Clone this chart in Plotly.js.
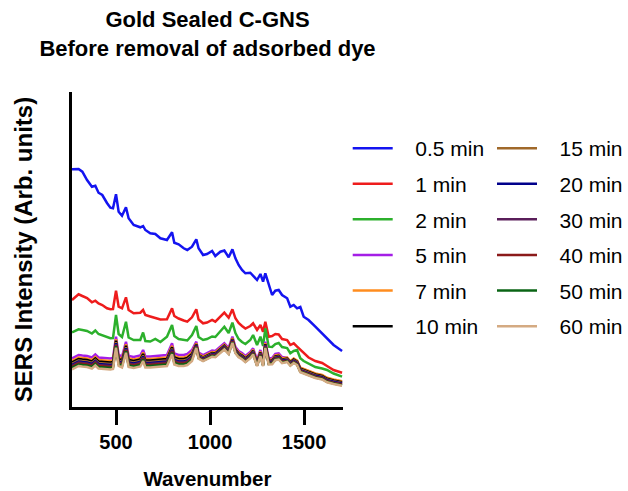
<!DOCTYPE html>
<html><head><meta charset="utf-8">
<script src="https://cdn.plot.ly/plotly-3.0.1.min.js"></script>
<style>html,body{margin:0;padding:0;background:#fff}#chart{width:628px;height:491px}</style>
</head><body><div id="chart"></div>
<script>
const wavenumber = [266,301,321,346,372,390,407,427,452,470,484,500,514,532,553,567,594,629,644,656,682,709,736,771,798,810,833,860,879,904,927,939,963,984,1011,1028,1055,1076,1099,1119,1135,1152,1170,1188,1214,1229,1250,1268,1282,1294,1312,1330,1347,1365,1383,1410,1427,1445,1463,1480,1498,1524,1560,1596,1622,1657,1702];

const min0_5 = [2377,2380,2353,2270,2203,2213,2143,2120,2040,1993,1987,2127,1953,1913,1997,1887,1820,1797,1810,1770,1737,1730,1687,1670,1747,1643,1627,1587,1570,1603,1677,1587,1520,1530,1560,1510,1553,1565,1497,1577,1487,1420,1370,1337,1343,1310,1270,1330,1253,1337,1220,1120,1163,1170,1120,1087,1003,1020,987,1000,903,870,803,737,687,620,560];
const min1 = [1070,1127,1110,1090,1047,1063,1035,1020,987,977,980,1163,1003,987,1097,970,937,943,970,920,905,890,875,877,987,910,885,865,853,897,977,875,837,845,870,853,903,943,893,977,887,840,810,785,810,837,770,820,753,853,703,710,730,725,680,670,620,637,603,570,540,495,460,440,410,370,343];
const min2 = [747,777,770,760,735,765,730,715,695,687,690,920,730,700,853,695,670,670,745,660,655,680,650,703,820,710,680,670,665,720,810,700,670,680,705,700,760,803,740,843,740,680,650,630,670,720,620,703,610,787,603,600,630,640,600,590,537,560,570,487,460,435,400,385,370,335,303];
const min5 = [487,520,515,510,495,525,495,490,485,485,490,703,520,505,653,510,500,515,570,505,505,510,515,520,637,535,520,520,530,570,653,545,520,540,565,560,600,637,590,703,600,560,540,510,550,587,470,570,470,653,487,490,530,537,500,490,453,480,460,387,375,355,330,315,287,270,253];
const min7 = [462,495,490,485,470,500,470,465,460,460,465,678,495,480,628,485,475,490,545,480,480,485,490,495,612,510,495,495,505,545,638,530,505,525,550,545,585,622,575,688,585,545,525,495,535,572,455,555,455,638,472,475,515,522,485,495,458,485,465,392,380,360,335,320,292,275,258];
const min10 = [447,480,475,470,455,485,455,450,445,445,450,663,480,465,613,470,460,475,530,465,465,470,475,480,597,495,480,480,490,530,628,520,495,515,540,535,575,612,565,678,575,535,515,485,525,562,445,545,445,628,462,465,505,512,475,485,448,475,455,382,370,350,325,310,282,265,248];
const min15 = [432,465,460,455,440,470,440,435,430,430,435,648,465,450,598,455,445,460,515,450,450,455,460,465,582,480,465,465,475,515,621,513,488,508,533,528,568,605,558,671,568,528,508,478,518,555,438,538,438,621,455,458,498,505,468,478,441,468,448,375,363,343,318,303,275,258,241];
const min20 = [422,455,450,445,430,460,430,425,420,420,425,638,455,440,588,445,435,450,505,440,440,445,450,455,572,470,455,455,465,505,615,507,482,502,527,522,562,599,552,665,562,522,502,472,512,549,432,532,432,615,449,452,492,499,462,472,435,462,442,369,357,337,312,297,269,252,235];
const min30 = [412,445,440,435,420,450,420,415,410,410,415,628,445,430,578,435,425,440,495,430,430,435,440,445,562,460,445,445,455,495,609,501,476,496,521,516,556,593,546,659,556,516,496,466,506,543,426,526,426,609,443,446,486,493,456,466,429,456,436,363,351,331,306,291,263,246,229];
const min40 = [402,435,430,425,410,440,410,405,400,400,405,618,435,420,568,425,415,430,485,420,420,425,430,435,552,450,435,435,445,485,603,495,470,490,515,510,550,587,540,653,550,510,490,460,500,537,420,520,420,603,437,440,480,487,450,460,423,450,430,357,345,325,300,285,257,240,223];
const min50 = [392,425,420,415,400,430,400,395,390,390,395,608,425,410,558,415,405,420,475,410,410,415,420,425,542,440,425,425,435,475,597,489,464,484,509,504,544,581,534,647,544,504,484,454,494,531,414,514,414,597,431,434,474,481,444,455,418,445,425,352,340,320,295,280,252,235,218];
const min60 = [377,410,405,400,385,415,385,380,375,375,380,593,410,395,543,400,390,405,460,395,395,400,405,410,527,425,410,410,420,460,591,483,458,478,503,498,538,575,528,641,538,498,478,448,488,525,408,508,408,591,425,428,468,475,438,450,413,440,420,347,335,315,290,275,247,230,213];

const seriesNames = ['0.5 min','1 min','2 min','5 min','7 min','10 min','15 min','20 min','30 min','40 min','50 min','60 min'];
const seriesValues = [min0_5,min1,min2,min5,min7,min10,min15,min20,min30,min40,min50,min60];
const seriesColors = ['#1414f0','#ee1c1c','#2cb02c','#a41ee6','#ff8c1e','#000000','#a0692a','#00008b','#5a1e5a','#8b1a1a','#0a6414','#d4aa82'];
const tickValues = [500, 1000, 1500];
const tickLabels = ['500', '1000', '1500'];

const FONT = 'Arial, "Liberation Sans", sans-serif';
const PAD = '\u00a0\u00a0\u00a0';

const traces = seriesNames.map((name, i) => ({
  type: 'scatter', mode: 'lines', name: PAD + name,
  x: wavenumber, y: seriesValues[i],
  line: {color: seriesColors[i], width: 2.5},
  legend: i < 6 ? 'legend' : 'legend2',
  legendgroup: 'g' + i,
  hoverinfo: 'skip'
}));

const legendCommon = {
  xref: 'container', yref: 'container',
  xanchor: 'left', yanchor: 'top',
  font: {family: FONT, size: 21, color: '#000'},
  bgcolor: 'rgba(0,0,0,0)', borderwidth: 0,
  itemwidth: 40, tracegroupgap: 5.3, traceorder: 'grouped'
};

const layout = {
  width: 628, height: 491,
  margin: {l: 72, r: 285, t: 92, b: 84},
  paper_bgcolor: '#fff', plot_bgcolor: '#fff',
  font: {family: FONT, color: '#000'},
  title: {
    text: 'Gold Sealed C-GNS<br>Before removal of adsorbed dye',
    font: {family: FONT, size: 22, weight: 'bold', color: '#000'},
    xref: 'paper', x: 0.5, xanchor: 'center',
    yref: 'container', y: 0.944, yanchor: 'top'
  },
  xaxis: {
    range: [266, 1707], showgrid: false, zeroline: false,
    showline: true, linewidth: 3, linecolor: '#000', mirror: false,
    ticks: 'outside', ticklen: 15, tickwidth: 3, tickcolor: '#000',
    tickvals: tickValues, ticktext: tickLabels,
    tickfont: {family: FONT, size: 20, weight: 'bold', color: '#000'},
    title: {text: 'Wavenumber', font: {family: FONT, size: 20.5, weight: 'bold', color: '#000'}, standoff: 20}
  },
  yaxis: {
    range: [0, 3150], showgrid: false, zeroline: false,
    showline: true, linewidth: 3, linecolor: '#000',
    ticks: '', showticklabels: false,
    title: {text: 'SERS Intensity (Arb. units)', font: {family: FONT, size: 24, weight: 'bold', color: '#000'}, standoff: 30}
  },
  legend: Object.assign({}, legendCommon, {x: 347.7/628, y: 1 - 128/491}),
  legend2: Object.assign({}, legendCommon, {x: 492/628, y: 1 - 128/491}),
  showlegend: true
};

Plotly.newPlot('chart', traces, layout, {displayModeBar: false, staticPlot: true});
</script>
</body></html>
